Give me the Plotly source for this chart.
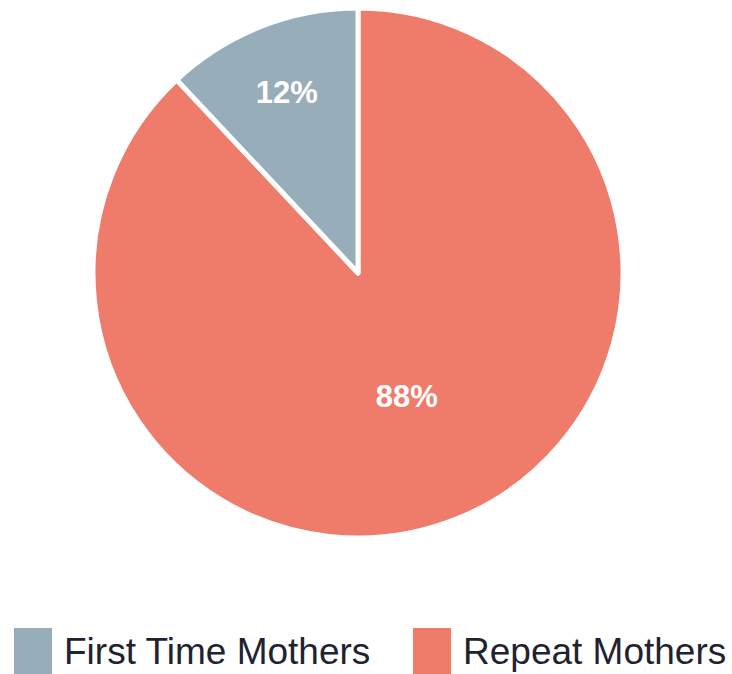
import plotly.graph_objects as go

labels = ["First Time Mothers", "Repeat Mothers"]
values = [12, 88]
colors = ["#97adba", "#ef7b6a"]

# draw Repeat first (clockwise from 12 o'clock) so First Time sits just left of 12 o'clock
fig = go.Figure(go.Pie(
    labels=labels[::-1], values=values[::-1], sort=False, direction="clockwise",
    rotation=0, marker=dict(colors=colors[::-1], line=dict(color="white", width=5)),
    texttemplate="%{percent:.0%}", textposition="inside", insidetextorientation="horizontal",
    textfont=dict(family="Liberation Sans, Arial, sans-serif", size=31, color="white", weight="bold"),
    showlegend=False, hoverinfo="label+percent",
    domain=dict(x=[93/732, 623/732], y=[(674-539)/674, (674-7)/674]),
))

# custom legend
leg_x = [14/732, 413/732]
for i, (lab, col) in enumerate(zip(labels, colors)):
    fig.add_shape(type="rect", xref="paper", yref="paper",
                  x0=leg_x[i], x1=leg_x[i] + 38/732, y0=0, y1=46/674,
                  fillcolor=col, line=dict(width=0))
    fig.add_annotation(x=leg_x[i] + 48/732, y=23/674, xref="paper", yref="paper",
                       text=lab, showarrow=False, xanchor="left", yanchor="middle",
                       font=dict(family="Liberation Sans, Arial, sans-serif", size=37, color="#1f2330"))

fig.update_layout(width=732, height=674, margin=dict(l=0, r=0, t=0, b=0),
                  paper_bgcolor="white", plot_bgcolor="white")
fig.write_html("out.html", config={"displayModeBar": False},
               post_script="document.body.style.margin='0';")
